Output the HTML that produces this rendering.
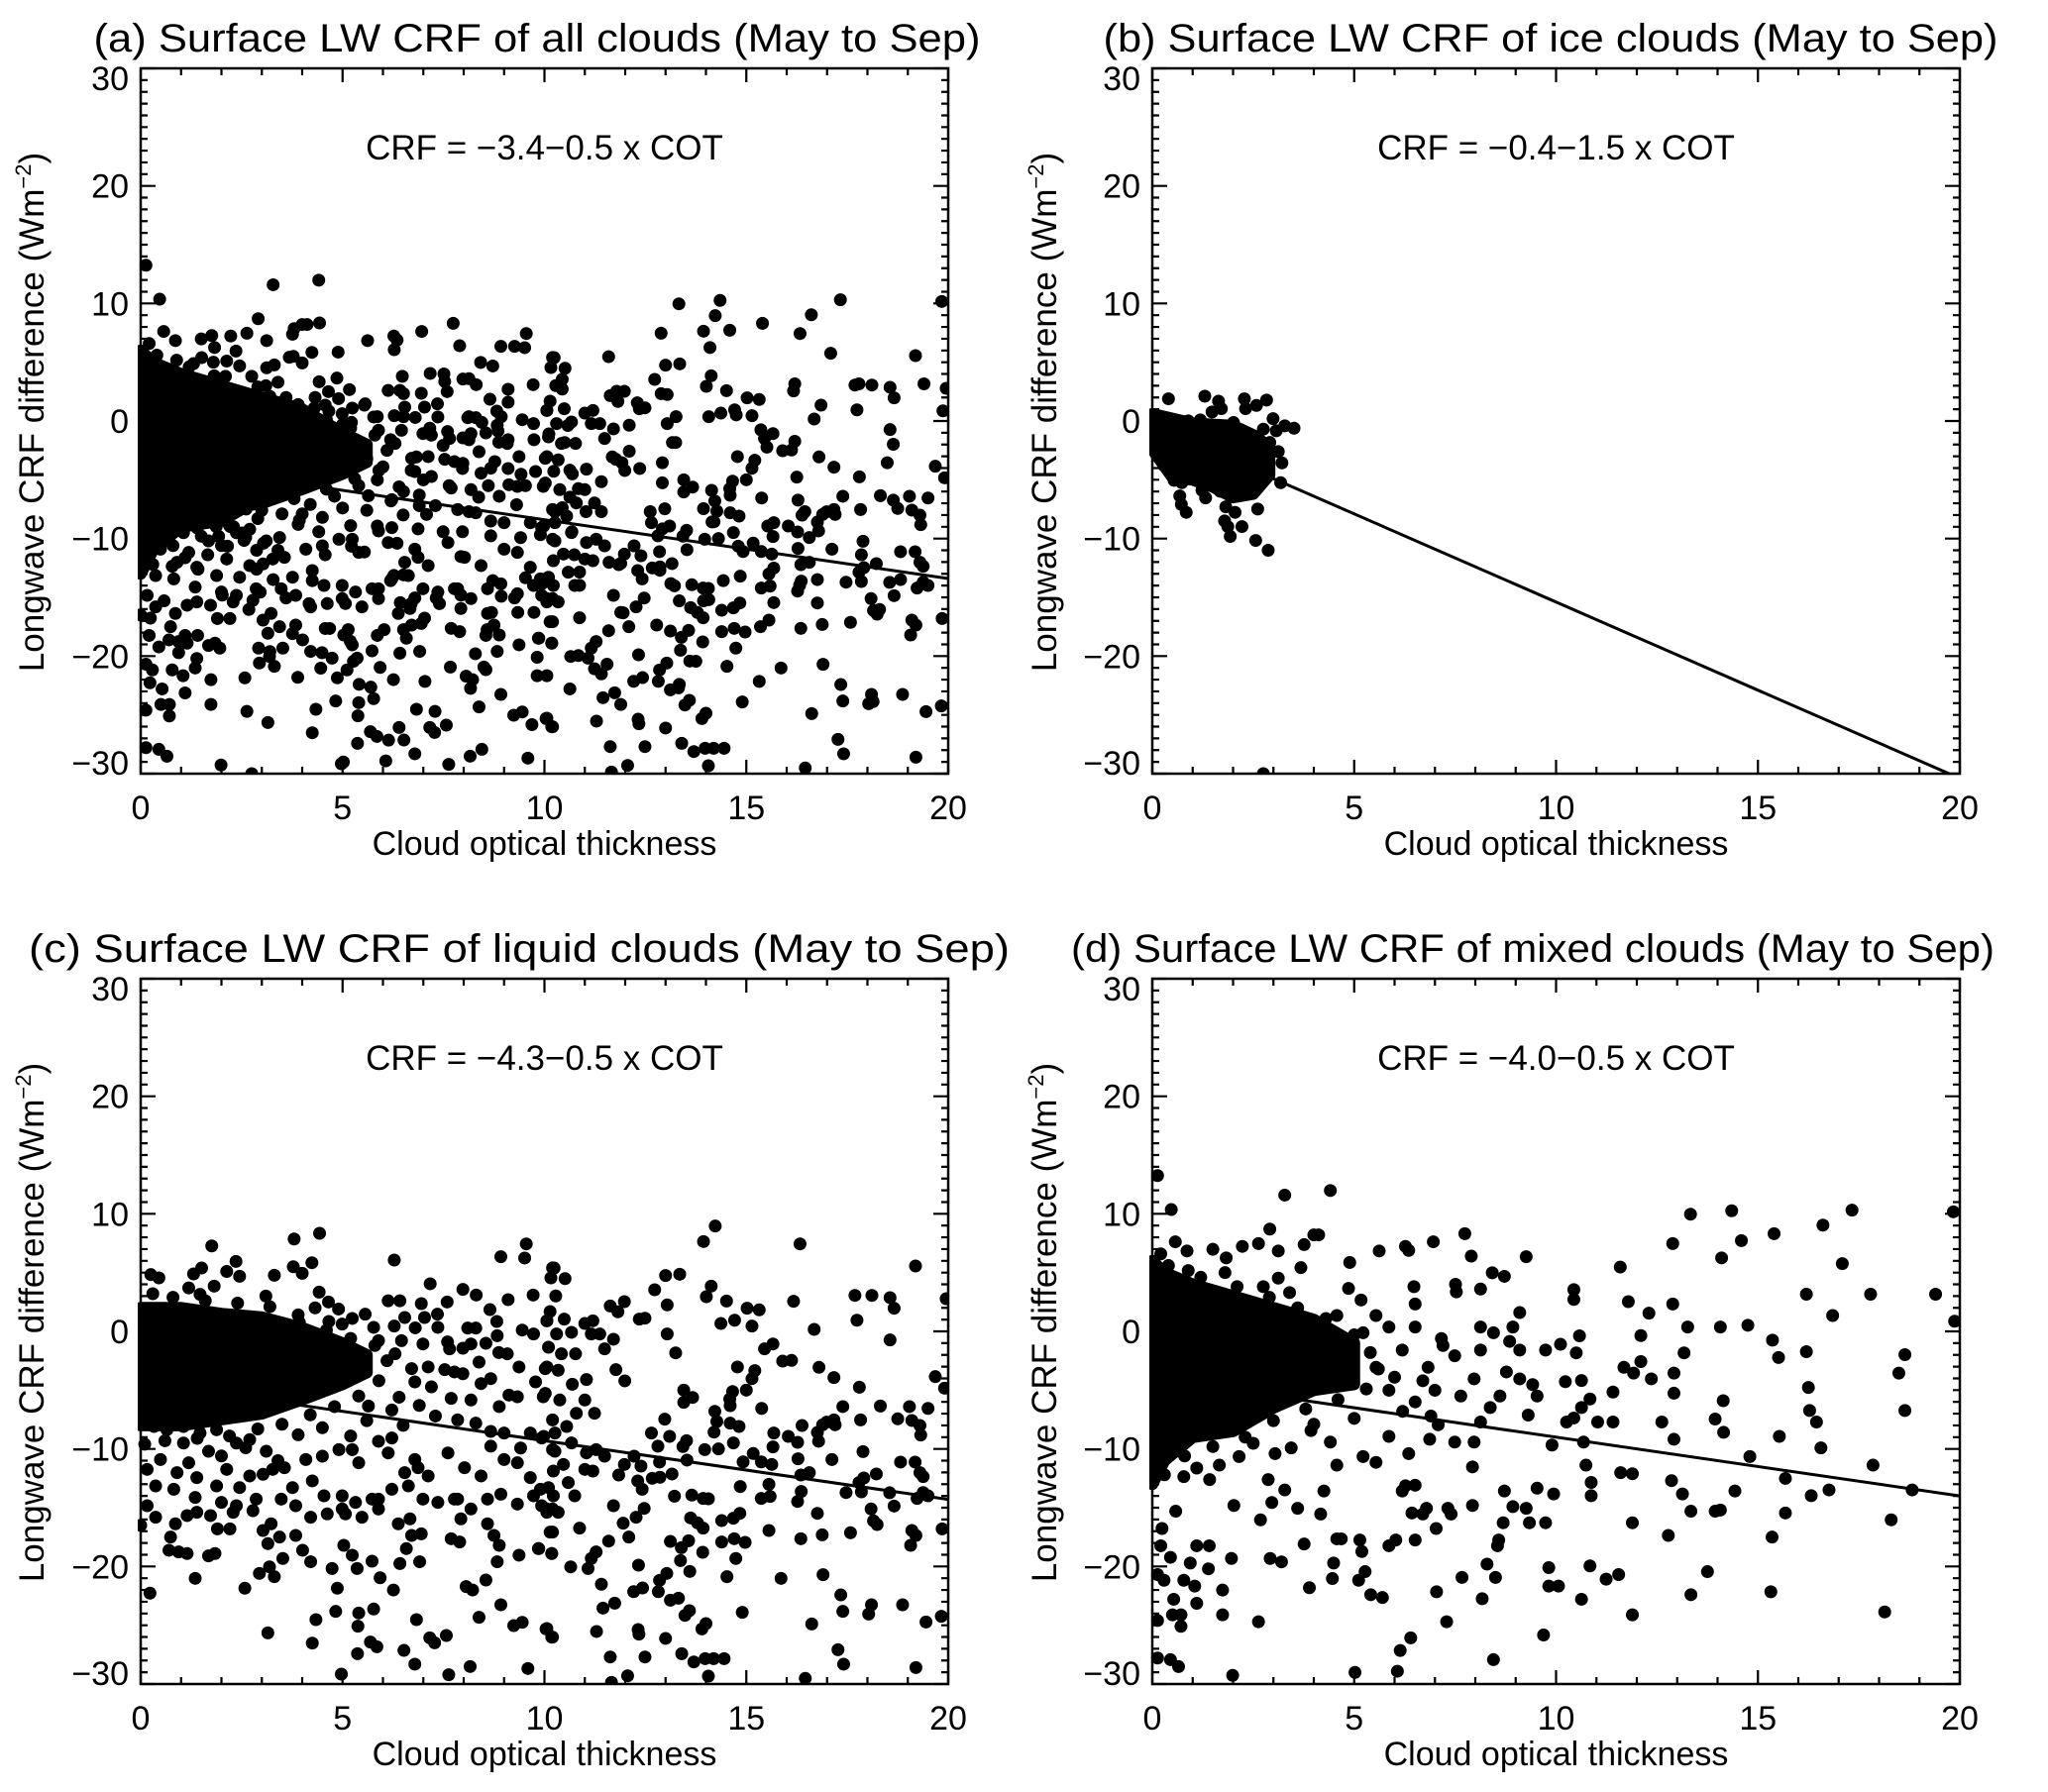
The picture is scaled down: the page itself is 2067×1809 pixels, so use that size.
<!DOCTYPE html>
<html><head><meta charset="utf-8"><style>
html,body{margin:0;padding:0;background:#fff}
svg{display:block}
text{font-family:"Liberation Sans",Arial,sans-serif;fill:#000}
</style></head><body>
<svg id="fig" width="2067" height="1809" viewBox="0 0 2067 1809" xmlns="http://www.w3.org/2000/svg"></svg>
<script>
// ---------- data ----------
const xTicks = [0, 5, 10, 15, 20];
const yTicks = [-30, -20, -10, 0, 10, 20, 30];
const panelTitles = ["(a) Surface LW CRF of all clouds (May to Sep)", "(b) Surface LW CRF of ice clouds (May to Sep)", "(c) Surface LW CRF of liquid clouds (May to Sep)", "(d) Surface LW CRF of mixed clouds (May to Sep)"];
const equations = ["CRF = \u22123.4\u22120.5 x COT", "CRF = \u22120.4\u22121.5 x COT", "CRF = \u22124.3\u22120.5 x COT", "CRF = \u22124.0\u22120.5 x COT"];
const intercepts = [-3.4, -0.4, -4.3, -4.0];
const slopes = [-0.5, -1.5, -0.5, -0.5];

// dense cores (fully overlapping dots): x, upper y, lower y
const bCoreX = [0, 0.5, 1, 1.5, 2, 2.5, 2.9];
const bCoreTop = [0.6, 0.2, -0.2, -0.3, -0.4, -1.2, -2.2];
const bCoreBot = [-2.4, -4.8, -5.0, -5.6, -6.5, -6.2, -4.6];
const cCoreX = [0, 1, 2, 3, 4, 5, 5.6];
const cCoreTop = [2, 2, 1.5, 1.2, 0.3, -1, -2];
const cCoreBot = [-8, -8, -7.5, -7, -5.8, -4.5, -3.5];
const dCoreX = [0, 0.3, 1, 2, 3, 4, 5];
const dCoreTop = [6, 5, 4, 3, 2, 1, -1];
const dCoreBot = [-13, -11, -9, -8.5, -6.5, -5, -4.5];

const bPts = [[0.4,1.89],[1.3,2.11],[1.64,1.69],[1.71,1.05],[1.48,0.77],[2.28,1.89],[2.31,1.05],[2.58,1.33],[2.83,1.78],[2.99,0.2],[3.28,-0.41],[3.51,-0.61],[3.07,-0.83],[2.75,-0.69],[2.01,-0.13],[0.89,0.01],[1.19,0.09],[2.91,-1.82],[3.12,-2.6],[3.21,-3.56],[0.29,-3.78],[0.54,-5.05],[0.73,-5.25],[0.99,-4.91],[1.23,-5.89],[1.32,-6.54],[0.68,-6.37],[0.72,-7.1],[0.84,-7.77],[1.68,-5.98],[1.82,-7.3],[1.79,-8.5],[1.87,-8.98],[1.93,-9.82],[2.05,-7.77],[2.22,-8.98],[2.61,-7.49],[2.56,-10.16],[2.87,-11.0],[3.18,-5.25],[2.13,-5.19],[2.38,-6.03],[2.75,-30.0]];

const cPts = [[1.76,7.27],[3.8,7.86],[4.43,8.34],[6.28,6.07],[9.55,7.44],[9.51,6.24],[8.92,6.35],[10.2,5.4],[0.25,4.83],[0.45,4.55],[1.31,4.89],[1.51,5.39],[2.13,5.1],[2.36,5.95],[2.45,4.69],[3.31,4.77],[3.78,5.5],[4.0,4.94],[4.24,5.84],[4.42,3.34],[1.82,3.85],[1.19,3.7],[1.47,3.15],[4.65,2.5],[4.32,2.0],[7.17,4.05],[7.98,3.57],[8.31,3.09],[9.72,3.09],[9.1,2.7],[7.59,2.5],[6.13,2.6],[6.42,2.6],[6.95,2.36],[7.35,1.46],[7.03,1.18],[8.65,1.85],[5.24,1.1],[5.56,1.46],[3.93,0.76],[4.66,0.84],[4.99,0.62],[5.77,0.34],[6.28,0.45],[6.54,1.18],[7.36,0.34],[8.1,0.28],[8.3,0.28],[8.82,0.84],[8.83,-0.37],[9.45,0.11],[9.73,-0.22],[10.06,0.9],[7.65,-1.49],[7.98,-1.43],[8.18,-1.07],[8.55,-1.01],[8.87,-1.8],[9.08,-1.91],[6.99,-1.07],[6.46,-0.79],[5.89,-0.79],[6.3,-1.91],[8.38,-2.61],[9.37,-3.03],[10.02,-3.17],[6.71,-3.17],[7.12,-3.03],[7.53,-3.26],[7.77,-3.45],[7.98,-3.6],[8.67,-4.02],[8.43,-4.44],[9.78,-4.3],[6.79,-4.3],[7.2,-4.72],[9.12,-5.42],[9.33,-5.56],[10.02,-5.28],[5.64,-6.35],[6.22,-6.69],[7.69,-5.7],[8.18,-5.84],[8.88,-6.4],[7.85,-7.53],[8.3,-7.81],[8.67,-8.51],[9.0,-8.65],[9.65,-8.65],[10.2,-7.53],[9.98,-8.93],[8.67,-9.77],[9.41,-9.92],[10.2,-10.06],[0.33,-8.09],[0.65,-8.37],[1.06,-8.09],[1.47,-8.65],[1.88,-8.37],[2.7,-9.21],[2.37,-9.5],[1.06,-9.5],[1.68,-10.2],[3.11,-10.2],[4.09,-10.9],[4.5,-10.62],[4.91,-10.06],[5.24,-10.06],[5.89,-9.35],[6.22,-9.07],[5.4,-11.18],[6.13,-10.34],[6.54,-12.02],[6.79,-10.9],[7.61,-10.34],[6.87,-11.6],[7.12,-12.3],[8.02,-11.6],[8.43,-12.3],[9.0,-10.9],[9.33,-11.18],[9.65,-12.44],[0.49,-10.9],[0.9,-12.02],[0.16,-11.74],[1.19,-11.18],[1.39,-12.44],[1.88,-13.15],[2.13,-11.74],[2.45,-13.29],[2.7,-12.3],[3.03,-12.16],[3.27,-11.74],[3.56,-11.6],[3.76,-13.29],[4.25,-12.72],[4.54,-13.99],[4.99,-13.99],[5.32,-14.55],[5.73,-14.27],[6.22,-13.43],[6.63,-13.15],[6.99,-14.27],[7.77,-14.27],[8.18,-15.11],[8.59,-14.27],[8.92,-13.85],[9.33,-14.69],[9.73,-13.99],[9.9,-13.43],[10.2,-15.11],[0.16,-14.83],[0.37,-13.15],[0.82,-13.43],[1.35,-14.13],[2.0,-14.55],[2.37,-14.83],[2.86,-14.27],[3.48,-14.27],[3.84,-14.83],[4.99,-15.11],[5.89,-14.27],[7.36,-14.55],[7.85,-14.27],[0,-16.5],[0.37,-15.81],[0.86,-16.37],[1.15,-15.67],[1.39,-15.39],[1.73,-15.67],[1.9,-16.8],[2.21,-16.8],[2.29,-15.39],[2.78,-15.25],[3.03,-16.94],[3.23,-16.37],[3.44,-17.5],[3.84,-17.36],[4.21,-15.81],[4.62,-15.53],[5.07,-15.53],[5.48,-15.81],[5.89,-15.11],[6.38,-16.37],[6.67,-15.95],[6.95,-17.22],[6.71,-17.36],[7.69,-17.64],[7.9,-17.92],[7.93,-15.95],[8.59,-16.37],[8.75,-17.36],[8.88,-18.2],[10.2,-17.08],[10.06,-15.39],[0.74,-17.5],[0.7,-18.62],[0.94,-18.76],[1.15,-18.9],[1.68,-19.1],[1.84,-18.9],[3.15,-18.06],[3.52,-19.32],[4.01,-18.62],[4.21,-19.6],[5.03,-18.2],[5.24,-19.04],[5.36,-20.17],[5.73,-19.55],[6.42,-19.75],[6.58,-18.48],[6.91,-19.6],[8.83,-19.6],[9.37,-19.04],[9.86,-18.48],[10.18,-18.9],[4.74,-20.17],[3.19,-20.03],[2.94,-20.59],[3.31,-20.87],[1.35,-21.01],[2.58,-21.85],[5.93,-20.96],[6.26,-22.0],[4.87,-21.85],[8.06,-21.71],[8.22,-22.0],[8.55,-21.15],[0.23,-22.27],[4.83,-23.82],[5.4,-23.96],[5.77,-23.62],[4.34,-24.52],[5.38,-25.08],[6.83,-24.52],[8.38,-24.32],[8.92,-23.26],[9.24,-25.03],[9.45,-24.75],[10.04,-25.31],[3.15,-25.65],[4.25,-26.52],[5.69,-26.43],[5.85,-26.83],[7.16,-26.07],[7.28,-26.49],[7.57,-25.87],[5.37,-27.42],[6.52,-27.14],[6.79,-28.31],[8.16,-28.51],[9.59,-28.68],[4.97,-29.16],[7.63,-29.21],[10.18,-26.01],
[14.23,8.96],[13.94,7.64],[16.33,7.44],[19.19,5.56],[13.0,4.75],[13.35,4.86],[12.73,3.54],[13.04,2.25],[14.01,2.95],[14.13,3.85],[14.51,2.58],[15.02,1.97],[15.32,1.83],[16.17,2.56],[17.69,3.06],[18.11,3.06],[18.56,2.87],[18.66,1.97],[19.95,2.78],[13.04,-0.22],[13.25,-1.83],[12.35,1.04],[12.49,1.12],[11.98,2.53],[11.82,1.66],[11.63,2.16],[11.71,-0.67],[11.77,-3.26],[11.99,-4.21],[14.37,0.67],[14.71,0.95],[15.14,0.45],[16.68,0.17],[17.74,0.95],[18.56,-0.73],[15.45,-1.49],[15.66,-1.07],[15.9,-2.53],[16.12,-2.47],[14.78,-3.03],[15.21,-3.34],[16.8,-3.06],[17.17,-3.93],[19.68,-3.85],[19.91,-4.83],[17.8,-4.75],[13.45,-5.0],[14.66,-5.12],[15.0,-5.0],[15.14,-4.02],[15.38,-6.55],[14.59,-5.76],[14.6,-6.32],[13.67,-5.62],[13.45,-6.04],[14.22,-6.8],[14.27,-7.67],[14.2,-8.57],[14.6,-7.81],[14.82,-8.09],[14.68,-9.49],[14.31,-10.0],[13.97,-10.06],[13.52,-9.3],[13.43,-9.8],[13.53,-10.95],[13.1,-8.93],[12.98,-7.47],[12.65,-8.65],[12.81,-9.77],[12.85,-11.12],[12.67,-12.5],[12.86,-12.41],[13.16,-12.13],[12.39,-11.46],[12.22,-10.62],[11.98,-11.32],[11.84,-12.22],[12.31,-12.72],[12.42,-13.43],[12.47,-15.06],[12.27,-15.81],[11.95,-16.32],[11.71,-14.83],[11.59,-17.84],[12.09,-17.5],[12.33,-19.89],[12.21,-22.14],[12.43,-21.83],[11.41,-21.51],[11.74,-23.12],[11.45,-23.54],[11.29,-25.53],[11.63,-27.7],[12.06,-29.3],[11.66,-29.86],[12.32,-25.37],[12.34,-25.76],[12.49,-27.7],[13.0,-26.12],[12.85,-21.18],[13.03,-20.59],[12.82,-22.14],[13.12,-22.87],[13.32,-22.7],[13.37,-19.5],[13.6,-20.42],[13.39,-18.4],[13.12,-17.87],[13.57,-17.81],[13.92,-18.79],[13.48,-24.16],[13.59,-23.76],[14.0,-24.86],[13.9,-25.31],[13.4,-27.42],[13.7,-28.12],[13.98,-27.84],[14.19,-27.84],[14.45,-27.84],[14.06,-29.33],[13.62,-15.87],[13.79,-16.29],[13.93,-16.74],[13.93,-14.21],[13.65,-13.93],[13.22,-14.02],[14.06,-14.24],[14.39,-16.1],[14.68,-15.9],[14.84,-15.48],[14.39,-17.92],[14.7,-17.64],[14.97,-17.95],[14.74,-19.32],[14.52,-20.87],[14.9,-23.9],[15.56,-16.94],[15.56,-13.01],[15.37,-14.21],[15.59,-14.04],[15.86,-21.01],[16.27,-14.47],[16.36,-13.62],[16.35,-17.64],[16.35,-12.22],[16.56,-12.02],[16.28,-10.84],[16.27,-9.44],[16.04,-8.93],[16.38,-8.01],[15.68,-8.65],[15.66,-9.83],[15.63,-11.32],[15.37,-11.1],[15.17,-10.39],[14.92,-11.1],[14.85,-13.2],[16.76,-15.48],[16.88,-17.31],[16.9,-20.7],[16.62,-24.89],[16.46,-29.52],[17.34,-22.42],[17.39,-23.82],[17.27,-27.08],[17.41,-28.31],[17.12,-10.9],[17.39,-6.4],[16.79,-9.35],[16.76,-8.6],[16.89,-7.95],[16.99,-7.72],[17.17,-7.53],[17.2,-7.95],[17.83,-7.53],[17.89,-10.23],[17.79,-12.86],[17.91,-12.47],[17.85,-13.65],[17.47,-13.71],[18.22,-12.13],[18.09,-15.11],[18.15,-16.12],[18.24,-16.43],[17.58,-17.13],[18.55,-13.73],[18.66,-14.86],[18.32,-6.35],[18.75,-7.44],[18.82,-11.12],[19.04,-6.4],[19.1,-7.58],[19.3,-8.01],[19.32,-8.82],[19.18,-11.12],[19.3,-12.02],[19.38,-12.36],[19.38,-13.71],[19.23,-14.21],[19.5,-13.99],[19.5,-6.55],[19.85,-16.8],[19.1,-16.94],[19.2,-17.36],[19.07,-18.2],[18.1,-23.26],[18.03,-24.05],[18.87,-23.26],[19.45,-24.72],[19.83,-24.24],[19.2,-28.6],
[10.24,5.39],[10.16,4.55],[10.51,4.49],[10.28,3.01],[10.14,1.69],[10.06,0.9],[10.49,1.04],[10.67,-0.08],[10.3,-0.22],[10.1,-1.35],[10.42,-1.91],[10.77,-1.91],[11.0,0.67],[11.2,0.9],[11.16,-0.22],[11.37,-0.22],[11.49,-1.49],[10.06,-3.03],[10.34,-3.31],[10.69,-4.5],[11.04,-4.1],[9.97,-5.56],[10.38,-5.84],[11.0,-5.84],[11.24,-6.97],[10.79,-6.97],[10.55,-8.09],[10.26,-8.65],[10.67,-9.49],[9.93,-9.07],[10.26,-10.2],[10.47,-11.32],[10.22,-11.88],[11.04,-10.34],[11.28,-10.06],[11.0,-11.74],[11.2,-11.88],[11.49,-10.62],[10.59,-12.86],[10.75,-13.99],[10.1,-13.29],[10.22,-13.99],[9.93,-14.83],[10.06,-15.11],[10.34,-15.39],[10.14,-17.08],[10.87,-16.74],[9.85,-18.48],[10.18,-18.9],[10.65,-20.03],[11.16,-19.32],[11.08,-20.17],[11.28,-18.76],[10.06,-25.28],[10.2,-26.01],
[0.3,3.2],[0.8,2.9],[1.6,2.6],[2.4,2.4],[3.2,2.1],[3.9,1.4],[4.6,0.1],[5.2,-0.6],[5.8,-1.2],[6.1,-2.5],[5.9,-4.2],[5.4,-5.5],[4.8,-6.4],[4.2,-7.1],[3.5,-7.9],[2.9,-8.3],[2.2,-8.9],[1.4,-9.1],[0.6,-9.3],[0.1,-9.6],[2.6,-9.9],[3.9,-8.8],[4.5,-8.2],[5.6,-7.6],[6.4,-5.6],[6.9,-6.3],[7.3,-7.2],[6.5,-8.0],[5.2,-8.9],[3.4,-11.0],[2.0,-10.6],[6.8,0.3],[7.6,-0.9],[4.9,1.9],[3.1,3.0]];

const dPts = [[0.13,13.25],[0.47,10.36],[3.28,11.59],[4.41,11.98],[0.57,7.62],[0.21,6.59],[0.86,6.84],[0.89,5.17],[1.5,6.98],[1.83,6.25],[2.23,7.23],[2.63,7.47],[2.91,8.7],[3.12,6.84],[3.76,7.38],[4.0,8.21],[4.12,8.21],[3.68,5.42],[3.12,4.53],[2.75,3.8],[5.62,6.84],[6.27,7.23],[6.35,6.89],[6.96,7.62],[7.74,8.31],[7.9,6.4],[9.26,6.35],[8.72,4.68],[8.42,4.98],[7.51,4.0],[7.53,3.36],[8.13,3.6],[6.48,3.8],[6.51,2.33],[4.89,5.86],[4.86,3.65],[5.17,2.67],[10.44,3.55],[10.44,2.72],[11.59,5.47],[11.79,2.53],[12.3,1.55],[12.89,7.47],[12.89,2.33],[13.33,9.97],[14.1,6.25],[14.07,0.37],[14.35,10.26],[14.59,7.72],[14.75,0.52],[15.4,8.31],[16.2,3.16],[16.61,9.04],[16.85,1.35],[17.09,5.76],[17.33,10.31],[17.79,3.16],[19.4,3.16],[19.84,10.17],[19.87,0.86],[18.64,-1.98],[18.49,-3.55],[18.64,-6.73],[17.85,-11.38],[18.82,-13.49],[18.3,-16.03],[18.14,-23.87],[15.53,-8.93],[15.68,-12.51],[15.68,-15.45],[15.35,-17.5],[15.32,-22.15],[15.36,-0.75],[15.51,-2.22],[16.2,-1.73],[16.25,-4.77],[16.28,-6.73],[16.45,-7.71],[16.32,-13.98],[16.56,-9.91],[16.76,-13.49],[14.8,-10.65],[14.43,-13.58],[14.14,-5.9],[14.15,-8.59],[13.94,-7.46],[13.94,-15.3],[14.07,-15.2],[13.75,-20.44],[13.34,-22.4],[13.17,-1.83],[13.26,0.37],[13.34,-15.3],[13.13,-13.83],[12.92,-3.55],[12.92,-5.26],[12.92,-9.18],[12.86,-12.7],[12.78,-17.36],[12.62,-7.71],[12.36,-4.04],[12.1,-0.36],[12.1,-2.57],[11.92,-3.55],[11.68,-3.06],[11.89,-12.11],[11.89,-16.28],[11.89,-24.11],[11.41,-5.16],[11.41,-7.71],[11.6,-12.02],[11.55,-20.69],[11.24,-21.08],[10.84,-19.95],[10.84,-5.75],[10.87,-12.85],[10.87,-13.98],[11.03,-7.71],[10.63,-22.79],[10.74,-11.38],[10.68,-9.42],[10.63,-4.18],[10.63,-6.48],[10.58,-0.38],[10.5,-1.83],[10.44,-7.37],[10.26,-7.71],[10.11,-1.1],[9.9,-9.67],[9.82,-20.1],[9.82,-21.67],[9.74,-16.28],[9.69,-25.83],[10.06,-21.67],[9.94,-13.83],[9.53,-5.5],[9.53,-13.34],[9.34,-16.28],[9.31,-7.12],[9.26,-15.05],[9.1,1.6],[8.93,0.37],[8.85,-0.85],[8.77,-3.45],[8.93,-14.91],[8.72,-13.58],[8.69,-16.28],[8.58,-17.75],[8.5,-20.93],[8.55,-18.24],[8.45,-27.93],[8.29,-19.8],[8.17,-22.74],[7.93,-14.81],[7.93,-11.53],[7.67,-20.93],[7.4,-15.54],[7.32,-15.05],[7.29,-24.7],[7.04,-22.15],[7.03,-16.77],[6.79,-15.05],[6.7,-15.54],[6.51,-13.09],[6.51,-17.75],[6.43,-15.45],[6.27,-13.14],[6.19,-13.58],[6.14,-27.15],[6.07,-28.91],[5.86,-18.24],[6.03,-17.75],[6.4,-26.07],[5.7,-22.64],[5.41,-22.4],[5.14,-17.75],[5.19,-18.73],[5.27,-20.44],[5.11,-21.17],[5.02,-29.01],[4.57,-17.65],[4.68,-17.65],[4.49,-19.71],[4.46,-21.03],[4.25,-13.58],[4.17,-15.54],[3.89,-21.81],[3.76,-18.09],[3.6,-15.05],[3.28,-13.49],[3.2,-19.61],[2.92,-19.32],[2.96,-14.56],[2.87,-12.61],[2.63,-24.7],[2.68,-16.03],[2.02,-14.81],[1.96,-19.32],[1.74,-22.01],[1.74,-24.11],[1.41,-18.24],[1.39,-20.2],[1.1,-18.24],[1.1,-23.13],[1.05,-21.67],[0.94,-19.71],[0.78,-21.17],[0.71,-24.11],[0.71,-25.09],[0.53,-22.79],[0.45,-19.22],[0.5,-24.11],[0.65,-28.52],[0.45,-27.93],[0.21,-18.24],[0.13,-20.69],[0.13,-24.6],[0.13,-27.79],[0.29,-21.17],[1.99,-29.26],[0.24,-16.77],[0.58,-15.3],[0.78,-12.36],[1.1,-11.63],[1.42,-12.61],[1.66,-11.38],[2.15,-10.65],[2.5,-9.52],[3.04,-10.4],[3.44,-9.91],[3.93,-8.44],[4.41,-9.42],[4.57,-11.38],[5.22,-10.65],[5.54,-11.14],[5.86,-8.93],[6.35,-10.4],[6.87,-9.18],[7.08,-7.95],[7.49,-9.42],[7.97,-9.42],[8.37,-6.48],[8.13,-7.71],[8.61,-5.5],[7.64,-5.5],[7.97,-4.04],[7.0,-5.01],[6.51,-6.0],[5.86,-5.01],[6.83,-3.06],[7.49,-2.08],[8.13,-1.59],[8.45,-0.12],[7.16,-0.61],[6.51,0.37],[5.86,0.37],[5.54,1.35],[5.22,-0.12],[4.57,1.35],[4.25,0.37],[4.98,-2.08],[5.54,-3.06],[6.19,-1.59],[8.13,0.37],[9.1,-1.59],[9.74,-1.59],[9.42,-4.53],[9.1,-4.04],[10.23,-4.28],
[0.4,5.6],[1.2,4.6],[2.1,3.8],[2.9,2.9],[3.6,2.0],[4.3,1.1],[5.0,-0.3],[5.4,-1.8],[5.6,-3.2],[5.3,-4.9],[4.6,-5.8],[3.8,-6.6],[3.0,-7.6],[2.3,-9.0],[1.5,-9.8],[0.8,-10.6],[0.3,-12.2],[6.0,-3.9],[6.2,-6.8],[6.9,-7.2],[5.0,-7.4],[4.0,-7.9],[7.2,-1.2],[6.7,-4.2],[3.4,3.3],[1.8,5.0]];

// ---------- layout ----------
const NS = "http://www.w3.org/2000/svg";
const svg = document.getElementById("fig");
const PW = 815, PH = 712;
const panels = [
  {key:"a", left:142, top:69, tcx:542, tlen:895, ycx:32, pts:[bPts,cPts,dPts], cores:[[bCoreX,bCoreTop,bCoreBot],[cCoreX,cCoreTop,cCoreBot],[dCoreX,dCoreTop,dCoreBot]]},
  {key:"b", left:1163, top:69, tcx:1565, tlen:903, ycx:1054, pts:[bPts], cores:[[bCoreX,bCoreTop,bCoreBot]]},
  {key:"c", left:142, top:988, tcx:524, tlen:990, ycx:32, pts:[cPts], cores:[[cCoreX,cCoreTop,cCoreBot]]},
  {key:"d", left:1163, top:988, tcx:1547, tlen:932, ycx:1054, pts:[dPts], cores:[[dCoreX,dCoreTop,dCoreBot]]}
];
function mk(tag, attrs, parent){ const e=document.createElementNS(NS,tag); for(const k in attrs) e.setAttribute(k,attrs[k]); (parent||svg).appendChild(e); return e; }

panels.forEach((p, i) => {
  const sx = v => p.left + v / 20 * PW;
  const sy = v => p.top + (30 - v) / 60 * PH;
  const g = mk("g", {});
  
  

  const cp = mk("clipPath", {id: "clip" + p.key}, g);
  mk("rect", {x:p.left - 3, y:p.top, width:PW + 3, height:PH}, cp);

  const t = mk("text", {x:p.tcx, y:p.top - 17, "text-anchor":"middle", "font-size":"40", textLength:p.tlen, lengthAdjust:"spacingAndGlyphs"}, g);
  t.textContent = panelTitles[i];
  
  

  const dg = mk("g", {"clip-path":"url(#clip" + p.key + ")"}, g);
  
  
  p.cores.forEach(c => {
    const [cx, ct, cb] = c;
    let d = "M" + sx(cx[0]) + "," + sy(ct[0]);
    for (let k = 1; k < cx.length; k++) d += " L" + sx(cx[k]) + "," + sy(ct[k]);
    for (let k = cx.length - 1; k >= 0; k--) d += " L" + sx(cx[k]) + "," + sy(cb[k]);
    const path = mk("path", {d: d + " Z", fill:"#000", stroke:"#000", "stroke-width":"12", "stroke-linejoin":"round"}, dg);
    
    
  });
  p.pts.forEach(arr => arr.forEach(pt => {
    const c = mk("circle", {cx:sx(pt[0]), cy:sy(pt[1]), r:6.5, fill:"#000"}, dg);
    
    
  }));
  const ln = mk("line", {x1:sx(0), y1:sy(intercepts[i]), x2:sx(20), y2:sy(intercepts[i] + slopes[i]*20), stroke:"#000", "stroke-width":"3"}, dg);
  
  

  const fr = mk("rect", {x:p.left, y:p.top, width:PW, height:PH, fill:"none", stroke:"#000", "stroke-width":"2.5"}, g);
  
  

  let td = "";
  for (let v = 0; v <= 20; v++) {
    const L = v % 5 === 0 ? 14 : 7, x = sx(v);
    td += `M${x},${p.top+PH}v${-L}M${x},${p.top}v${L}`;
  }
  for (let v = -30; v <= 30; v++) {
    const L = v % 10 === 0 ? 15 : 7, y = sy(v);
    td += `M${p.left},${y}h${L}M${p.left+PW},${y}h${-L}`;
  }
  const tk = mk("path", {d:td, stroke:"#000", "stroke-width":"2.2", fill:"none"}, g);
  
  

  xTicks.forEach(v => {
    const tl = mk("text", {x:sx(v), y:p.top + PH + 46, "text-anchor":"middle", "font-size":"34"}, g);
    tl.textContent = String(v);
    
    
  });
  yTicks.forEach(v => {
    let off = 12;
    if (v === 30) off = 22;
    if (v === -30) off = 1;
    const tl = mk("text", {x:p.left - 12, y:sy(v) + off, "text-anchor":"end", "font-size":"34"}, g);
    tl.textContent = v < 0 ? "\u2212" + Math.abs(v) : String(v);
    
    
  });

  const xt = mk("text", {x:p.left + PW/2, y:p.top + PH + 82, "text-anchor":"middle", "font-size":"34"}, g);
  xt.textContent = "Cloud optical thickness";
  
  

  const yt = mk("text", {x:0, y:0, "text-anchor":"middle", "font-size":"35", transform:`translate(${p.ycx + 12},${p.top + PH/2 - 9}) rotate(-90)`}, g);
  
  
  yt.appendChild(document.createTextNode("Longwave CRF difference (Wm"));
  const sup = mk("tspan", {"font-size":"22", dy:"-13"}, yt);
  sup.textContent = "\u22122";
  const cl = mk("tspan", {dy:"13"}, yt);
  cl.textContent = ")";

  const eq = mk("text", {x:p.left + PW/2, y:p.top + 92, "text-anchor":"middle", "font-size":"35"}, g);
  eq.textContent = equations[i];
  
  
});
</script>
</body></html>
